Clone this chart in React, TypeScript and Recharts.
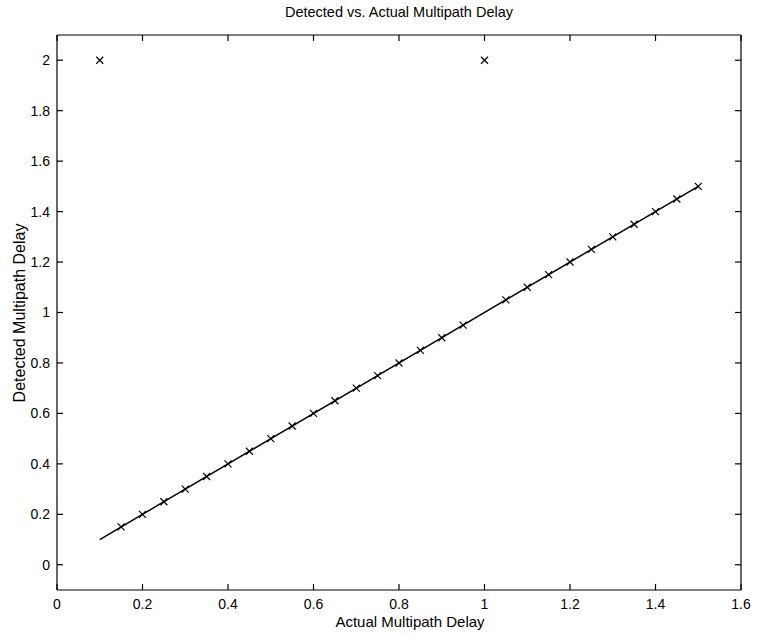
import { ComposedChart, Scatter, XAxis, YAxis, ReferenceLine } from "recharts";

const actualDelay = [
  0.1, 0.15, 0.2, 0.25, 0.3, 0.35, 0.4, 0.45, 0.5, 0.55, 0.6, 0.65, 0.7, 0.75, 0.8,
  0.85, 0.9, 0.95, 1.0, 1.05, 1.1, 1.15, 1.2, 1.25, 1.3, 1.35, 1.4, 1.45, 1.5,
];
const detectedDelay = [
  2.0, 0.15, 0.2, 0.25, 0.3, 0.35, 0.4, 0.45, 0.5, 0.55, 0.6, 0.65, 0.7, 0.75, 0.8,
  0.85, 0.9, 0.95, 2.0, 1.05, 1.1, 1.15, 1.2, 1.25, 1.3, 1.35, 1.4, 1.45, 1.5,
];
const idealX = [0.1, 1.5];
const idealY = [0.1, 1.5];
const xTicks = [0, 0.2, 0.4, 0.6, 0.8, 1, 1.2, 1.4, 1.6];
const yTicks = [0, 0.2, 0.4, 0.6, 0.8, 1, 1.2, 1.4, 1.6, 1.8, 2];
const xDomain = [0, 1.6];
const yDomain = [-0.1, 2.1];

const markers = actualDelay.map((x, i) => ({ x, y: detectedDelay[i] }));
const ideal = idealX.map((x, i) => ({ x, y: idealY[i] }));

const font = "'Liberation Sans', Arial, sans-serif";
// inward tick length, in data units (~6px)
const tickLenX = 0.014;
const tickLenY = 0.024;
const frame = { stroke: "#000", strokeWidth: 1.2 };

function Cross(props: any) {
  const { cx, cy } = props;
  const s = 3.5;
  return (
    <path
      d={`M${cx - s},${cy - s}L${cx + s},${cy + s}M${cx - s},${cy + s}L${cx + s},${cy - s}`}
      stroke="#000"
      strokeWidth={1.2}
      fill="none"
    />
  );
}

export default function App() {
  const tickStyle = { fill: "#000", fontSize: 14, fontFamily: font };
  return (
    <div style={{ position: "absolute", left: 0, top: 0, width: 763, height: 635, background: "#fff" }}>
      <ComposedChart width={763} height={635} margin={{ top: 35, right: 22, bottom: 15, left: 17 }}>
        <XAxis
          type="number"
          dataKey="x"
          domain={xDomain}
          ticks={xTicks}
          tickSize={6}
          tickMargin={3}
          tick={tickStyle}
          axisLine={frame}
          tickLine={false}
          height={30}
          allowDataOverflow
        />
        <YAxis
          type="number"
          dataKey="y"
          domain={yDomain}
          ticks={yTicks}
          tickSize={6}
          tickMargin={1}
          tick={tickStyle}
          axisLine={frame}
          tickLine={false}
          width={40}
          allowDataOverflow
        />
        <ReferenceLine x={xDomain[1]} {...frame} />
        <ReferenceLine y={yDomain[1]} {...frame} />
        {xTicks.map((t) => (
          <ReferenceLine key={`b${t}`} segment={[{ x: t, y: yDomain[0] }, { x: t, y: yDomain[0] + tickLenY }]} {...frame} />
        ))}
        {xTicks.map((t) => (
          <ReferenceLine key={`t${t}`} segment={[{ x: t, y: yDomain[1] }, { x: t, y: yDomain[1] - tickLenY }]} {...frame} />
        ))}
        {yTicks.map((t) => (
          <ReferenceLine key={`l${t}`} segment={[{ x: xDomain[0], y: t }, { x: xDomain[0] + tickLenX, y: t }]} {...frame} />
        ))}
        {yTicks.map((t) => (
          <ReferenceLine key={`r${t}`} segment={[{ x: xDomain[1], y: t }, { x: xDomain[1] - tickLenX, y: t }]} {...frame} />
        ))}
        <Scatter
          data={ideal}
          line={{ stroke: "#000", strokeWidth: 1.5 }}
          shape={() => <g />}
          isAnimationActive={false}
        />
        <Scatter data={markers} shape={<Cross />} isAnimationActive={false} />
        <text x={399} y={17} textAnchor="middle" fontSize={14.5} fontFamily={font} fill="#000">
          Detected vs. Actual Multipath Delay
        </text>
        <text x={410} y={627} textAnchor="middle" fontSize={15} fontFamily={font} fill="#000">
          Actual Multipath Delay
        </text>
        <text
          x={25}
          y={313}
          textAnchor="middle"
          fontSize={16}
          fontFamily={font}
          fill="#000"
          transform="rotate(-90 25 313)"
        >
          Detected Multipath Delay
        </text>
      </ComposedChart>
    </div>
  );
}
